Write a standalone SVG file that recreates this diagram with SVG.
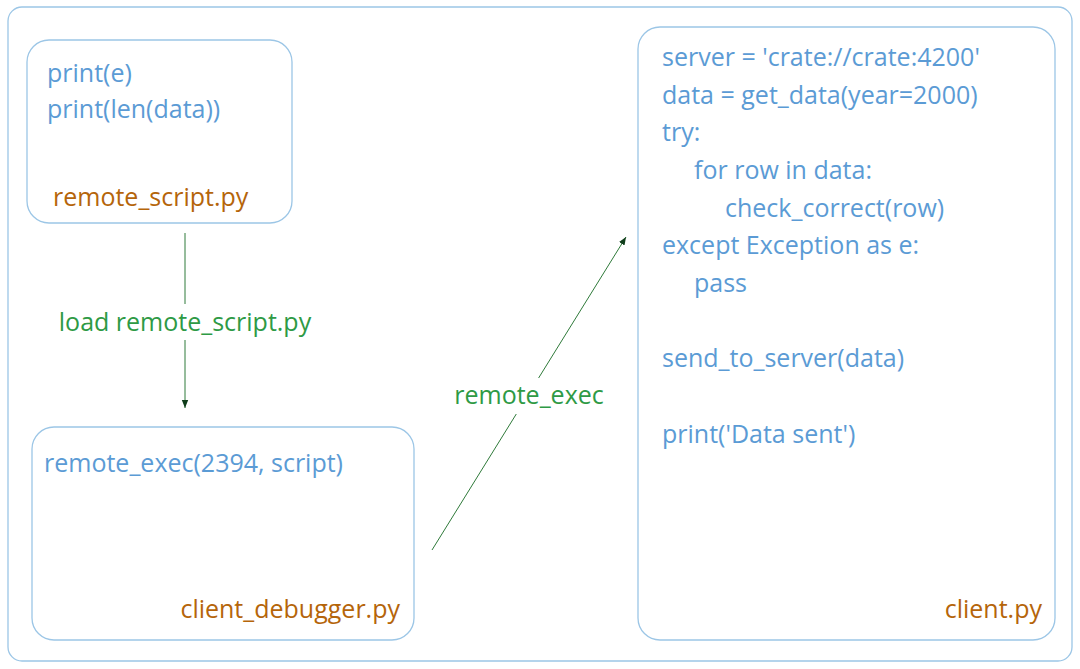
<svg xmlns="http://www.w3.org/2000/svg" width="1080" height="669" viewBox="0 0 1080 669">
<defs>
<style>
.box{fill:#fff;stroke:#9cc6e6;stroke-width:1.3}
.code{font-family:"Open Sans","Liberation Sans",sans-serif;font-size:25px;fill:#5b9bd5}
.file{font-family:"Open Sans","Liberation Sans",sans-serif;font-size:25px;fill:#b5650a}
.lbl{font-family:"Open Sans","Liberation Sans",sans-serif;font-size:25px;fill:#2e9a45}
.conn{stroke:#2f7a3a;stroke-width:1;fill:none}
</style>
<marker id="ah" viewBox="0 0 10 10" refX="10" refY="5" markerWidth="8" markerHeight="8" orient="auto"><path d="M0,1 L10,5 L0,9 z" fill="#0f3d1a"/></marker>
</defs>
<rect width="1080" height="669" fill="#fff"/>
<rect x="8" y="7" width="1064" height="654" rx="14" class="box"/>
<g id="remote_script">
<rect x="27" y="40" width="265" height="183" rx="22" class="box"/>
<text x="47" y="82" class="code">print(e)</text>
<text x="47" y="118" class="code">print(len(data))</text>
<text x="53" y="206" class="file">remote_script.py</text>
</g>
<g id="client_debugger">
<rect x="32" y="427" width="382" height="213" rx="22" class="box"/>
<text x="44" y="472" class="code">remote_exec(2394, script)</text>
<text x="400" y="618" class="file" text-anchor="end">client_debugger.py</text>
</g>
<g id="client">
<rect x="638" y="27" width="417" height="613" rx="22" class="box"/>
<text x="662" y="66" class="code">server = 'crate://crate:4200'</text>
<text x="662" y="104" class="code">data = get_data(year=2000)</text>
<text x="662" y="141" class="code">try:</text>
<text x="694" y="179" class="code">for row in data:</text>
<text x="725" y="217" class="code">check_correct(row)</text>
<text x="662" y="254" class="code">except Exception as e:</text>
<text x="694" y="292" class="code">pass</text>
<text x="662" y="367" class="code">send_to_server(data)</text>
<text x="662" y="443" class="code">print('Data sent')</text>
<text x="1042" y="618" class="file" text-anchor="end">client.py</text>
</g>
<g id="connectors">
<path d="M185,233 V408" class="conn" marker-end="url(#ah)"/>
<rect x="36" y="304" width="298" height="36" fill="#fff"/>
<text x="185" y="331" class="lbl" text-anchor="middle">load remote_script.py</text>
<path d="M432,550 L626,237" class="conn" marker-end="url(#ah)"/>
<rect x="440" y="378" width="178" height="36" fill="#fff"/>
<text x="529" y="404" class="lbl" text-anchor="middle">remote_exec</text>
</g>
</svg>
